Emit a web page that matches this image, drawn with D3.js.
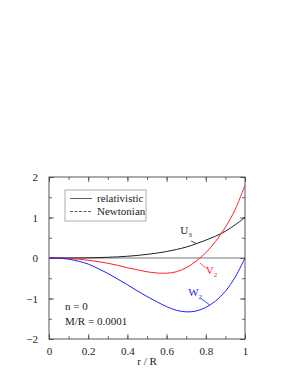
<!DOCTYPE html>
<html>
<head>
<meta charset="utf-8">
<style>
  body { margin: 0; background: #fff; }
  svg, text { font-family: "Liberation Serif", "DejaVu Serif", serif; }
</style>
</head>
<body>
<div id="graph_div"></div>
<script src="https://d3js.org/d3.v7.min.js"></script>
<script>

// data
let r_vals = [0, 0.05, 0.1, 0.15, 0.2, 0.25, 0.3, 0.35, 0.4, 0.45, 0.5,
              0.55, 0.6, 0.65, 0.7, 0.75, 0.8, 0.85, 0.9, 0.95, 1.0];
let u3_vals = [0, 0, 0, 0.002, 0.005, 0.01, 0.018, 0.028, 0.043, 0.063, 0.09,
               0.12, 0.16, 0.21, 0.27, 0.35, 0.44, 0.54, 0.66, 0.82, 1.0];
let v2_vals = [0, -0.005, -0.015, -0.03, -0.055, -0.09, -0.13, -0.18, -0.24, -0.29, -0.34,
               -0.37, -0.375, -0.34, -0.24, -0.08, 0.13, 0.41, 0.76, 1.2, 1.8];
let w2_vals = [0, -0.005, -0.03, -0.08, -0.15, -0.26, -0.38, -0.52, -0.66, -0.81, -0.95,
               -1.08, -1.2, -1.29, -1.33, -1.31, -1.22, -1.06, -0.82, -0.47, 0];

let x_ticks = [0, 0.2, 0.4, 0.6, 0.8, 1];
let x_tick_labels = ["0", "0.2", "0.4", "0.6", "0.8", "1"];
let y_ticks = [-2, -1, 0, 1, 2];
let y_tick_labels = ["\u22122", "\u22121", "0", "1", "2"];
let legend_labels = ["relativistic", "Newtonian"];
let info_lines = ["n = 0", "M/R = 0.0001"];

let container_width = 295,
    container_height = 382,
    margin = {top: 177, right: 50, bottom: 43, left: 49},
    graph_width = container_width - margin.left - margin.right,
    graph_height = container_height - margin.top - margin.bottom;

let serif = "Liberation Serif, DejaVu Serif, serif";

let svg = d3.select("#graph_div")
  .append("svg")
    .attr("width", container_width)
    .attr("height", container_height)
    .attr("font-family", serif);

let g = svg.append("g")
    .attr("transform", "translate(" + margin.left + "," + margin.top + ")");

let x = d3.scaleLinear().domain([0, 1]).range([0, graph_width]);
let y = d3.scaleLinear().domain([-2, 2]).range([graph_height, 0]);

// frame with inward ticks on all sides
let x_minor = d3.range(0, 1.0001, 0.1);
let y_minor = d3.range(-2, 2.0001, 0.5);

function styleAxis(sel) {
  sel.attr("font-family", serif);
  sel.selectAll("line").attr("stroke", "#444").attr("stroke-width", 0.8);
  sel.selectAll("path").remove();
  sel.selectAll("text")
    .attr("font-size", "11px")
    .attr("fill", "#222");
}

g.append("g").attr("transform", "translate(0," + graph_height + ")")
  .call(d3.axisBottom(x).tickValues(x_minor).tickSize(-3).tickFormat(""))
  .call(styleAxis);
g.append("g").attr("transform", "translate(0," + graph_height + ")")
  .call(d3.axisBottom(x).tickValues(x_ticks).tickSize(-5).tickPadding(8)
        .tickFormat((d, i) => x_tick_labels[i]))
  .call(styleAxis);
g.append("g")
  .call(d3.axisTop(x).tickValues(x_minor).tickSize(-3).tickFormat(""))
  .call(styleAxis);
g.append("g")
  .call(d3.axisTop(x).tickValues(x_ticks).tickSize(-5).tickFormat(""))
  .call(styleAxis);
g.append("g")
  .call(d3.axisLeft(y).tickValues(y_minor).tickSize(-3).tickFormat(""))
  .call(styleAxis);
g.append("g")
  .call(d3.axisLeft(y).tickValues(y_ticks).tickSize(-5).tickPadding(11)
        .tickFormat((d, i) => y_tick_labels[i]))
  .call(styleAxis);
g.append("g").attr("transform", "translate(" + graph_width + ",0)")
  .call(d3.axisRight(y).tickValues(y_minor).tickSize(-3).tickFormat(""))
  .call(styleAxis);
g.append("g").attr("transform", "translate(" + graph_width + ",0)")
  .call(d3.axisRight(y).tickValues(y_ticks).tickSize(-5).tickFormat(""))
  .call(styleAxis);

g.append("rect")
  .attr("width", graph_width).attr("height", graph_height)
  .attr("fill", "none").attr("stroke", "#444").attr("stroke-width", 0.9);

// zero line
g.append("line")
  .attr("x1", 0).attr("x2", graph_width)
  .attr("y1", y(0)).attr("y2", y(0))
  .attr("stroke", "#777").attr("stroke-width", 1);

// curves
let line = d3.line()
  .x(function(d) { return x(d[0]); })
  .y(function(d) { return y(d[1]); })
  .curve(d3.curveCatmullRom.alpha(0.5));

let series = [
  {name: "U", sub: "3", vals: u3_vals, color: "#222"},
  {name: "V", sub: "2", vals: v2_vals, color: "#ff2020"},
  {name: "W", sub: "2", vals: w2_vals, color: "#2020ff"}
];

g.selectAll(".curve")
  .data(series)
  .enter()
  .append("path")
    .attr("class", "curve")
    .attr("fill", "none")
    .attr("stroke", function(d) { return d.color; })
    .attr("stroke-width", 1)
    .attr("d", function(d) { return line(r_vals.map((r, i) => [r, d.vals[i]])); });

// curve labels with leader lines
let label_pos = [
  {lx: 0.67, ly: 0.6, ax: 0.725, ay: 0.42, bx: 0.75, by: 0.36},
  {lx: 0.80, ly: -0.4, ax: 0.77, ay: -0.12, bx: 0.8, by: -0.25},
  {lx: 0.71, ly: -0.93, ax: 0.775, ay: -1.0, bx: 0.82, by: -1.16}
];

series.forEach(function(s, i) {
  let p = label_pos[i];
  g.append("line")
    .attr("x1", x(p.ax)).attr("y1", y(p.ay))
    .attr("x2", x(p.bx)).attr("y2", y(p.by))
    .attr("stroke", s.color).attr("stroke-width", 0.8);
  let t = g.append("text")
    .attr("x", x(p.lx)).attr("y", y(p.ly))
    .attr("font-size", "11px")
    .attr("fill", s.color);
  t.append("tspan").text(s.name);
  t.append("tspan").attr("font-size", "7px").attr("dy", 3).text(s.sub);
});

// legend
let legend = g.append("g").attr("transform", "translate(16,13)");
legend.append("rect")
  .attr("width", 81).attr("height", 31)
  .attr("fill", "#fff").attr("stroke", "#999").attr("stroke-width", 0.8);
legend.selectAll(".leg_line")
  .data(legend_labels)
  .enter()
  .append("line")
    .attr("x1", 5).attr("x2", 27)
    .attr("y1", (d, i) => 8.5 + i * 13)
    .attr("y2", (d, i) => 8.5 + i * 13)
    .attr("stroke", "#333").attr("stroke-width", 0.8)
    .attr("stroke-dasharray", (d, i) => i === 1 ? "3,1.5" : null);
legend.selectAll(".leg_text")
  .data(legend_labels)
  .enter()
  .append("text")
    .attr("x", 32)
    .attr("y", (d, i) => 12 + i * 13)
    .attr("font-size", "11px")
    .attr("fill", "#222")
    .text(d => d);

// info text
g.selectAll(".info")
  .data(info_lines)
  .enter()
  .append("text")
    .attr("x", 16)
    .attr("y", (d, i) => 133 + i * 15)
    .attr("font-size", "11px")
    .attr("fill", "#222")
    .text(d => d);

// axis title
svg.append("text")
  .attr("x", margin.left + graph_width / 2)
  .attr("y", 365)
  .attr("text-anchor", "middle")
  .attr("font-size", "11px")
  .attr("fill", "#222")
  .text("r / R");

</script>
</body>
</html>
